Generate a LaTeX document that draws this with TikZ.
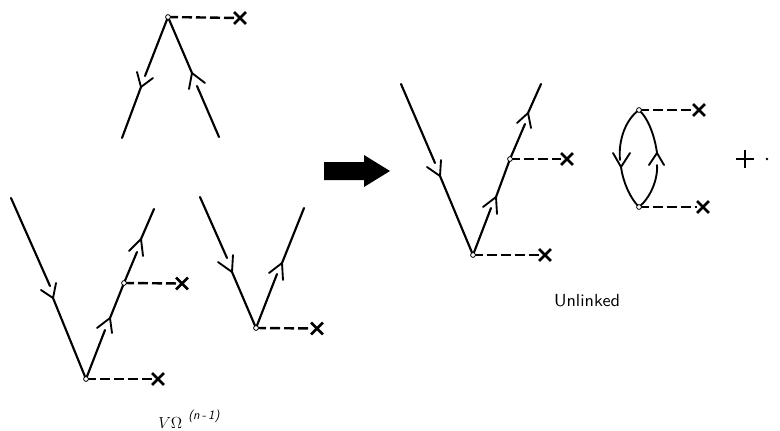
\documentclass[tikz,border=0pt]{standalone}
\usetikzlibrary{shapes.misc}
\tikzset{
  line/.style={line width=1.6pt,black,line cap=round},
  thinline/.style={line width=1.4pt,black,line cap=round},
  barb/.style={line width=1.4pt,black,line cap=round},
  dsh/.style={line width=1.8pt,black,dash pattern=on 7.5pt off 3pt},
  vert/.style={circle,draw=black,fill=white,line width=0.6pt,inner sep=0pt,minimum size=3.6pt},
  xmk/.style={cross out,draw=black,line width=1.9pt,inner sep=0pt,minimum size=7pt},
}
\newcommand{\ymark}[3]{\draw[barb] (#2) -- (#1) -- (#3);}
\begin{document}
\begin{tikzpicture}[x=0.75pt,y=-0.75pt]
\useasboundingbox (0,0) rectangle (780,430);
% top diagram
\coordinate (tla) at (141,87);
\coordinate (tlg) at (145,76);
\coordinate (tle) at (122,138);
\coordinate (tra) at (192,73);
\coordinate (trg) at (197,86);
\coordinate (tre) at (219,137);
\draw[line] (168,17) coordinate (tv0) -- (tlg);
\draw[line] (tla) -- (tle);
\draw[line] (tv0) -- (tra);
\draw[line] (trg) -- (tre);
\ymark{tla}{137,72}{153,78}
\ymark{tra}{205,83}{189,89}
\node[xmk] (tx) at (240,18) {};
\draw[dsh] (tv0) -- (tx);
\node[vert] (tv) at (tv0) {};
% lower left diagram
\coordinate (as) at (11,198);
\coordinate (ag) at (50,286);
\coordinate (aa) at (53,298);
\coordinate (ab) at (86,379);
\coordinate (ac) at (124,283);
\coordinate (ag2) at (105,330);
\coordinate (aa2) at (110,318);
\coordinate (ag3) at (137,252);
\coordinate (aa3) at (141,239);
\coordinate (ae) at (154,209);
\draw[line] (as) -- (ag);
\draw[line] (aa) -- (ab) -- (ag2);
\draw[line] (aa2) -- (ac) -- (ag3);
\draw[line] (aa3) -- (ae);
\ymark{aa}{41,290}{56,283}
\ymark{aa2}{97,328}{112,333}
\ymark{aa3}{129,251}{143,256}
\node[xmk] (ax1) at (182,283.5) {};
\node[xmk] (ax2) at (158,379) {};
\draw[dsh] (ac) -- (ax1);
\draw[dsh] (ab) -- (ax2);
\node[vert] (av1) at (ac) {};
\node[vert] (av2) at (ab) {};
% lower middle diagram
\coordinate (bs) at (200,197);
\coordinate (bg) at (227,258);
\coordinate (ba) at (232,272);
\coordinate (bb) at (256,328);
\coordinate (bg2) at (277,274);
\coordinate (ba2) at (282,263);
\coordinate (be) at (304,208);
\draw[line] (bs) -- (bg);
\draw[line] (ba) -- (bb) -- (bg2);
\draw[line] (ba2) -- (be);
\ymark{ba}{218,262}{233,255}
\ymark{ba2}{269,273}{283,280}
\node[xmk] (bx) at (317,328.5) {};
\draw[dsh] (bb) -- (bx);
\node[vert] (bv) at (bb) {};
% big arrow
\fill[black] (324,162) -- (364,162) -- (364,155) -- (390,171) -- (364,187) -- (364,180) -- (324,180) -- cycle;
% right V
\coordinate (cs) at (401,84);
\coordinate (cg) at (435,163);
\coordinate (ca) at (440,176);
\coordinate (cb) at (473,255);
\coordinate (cc) at (510,159);
\coordinate (cg2) at (491,208);
\coordinate (ca2) at (496,197);
\coordinate (cg3) at (525,124);
\coordinate (ca3) at (528,113);
\coordinate (ce) at (541,84);
\draw[line] (cs) -- (cg);
\draw[line] (ca) -- (cb) -- (cg2);
\draw[line] (ca2) -- (cc) -- (cg3);
\draw[line] (ca3) -- (ce);
\ymark{ca}{427,167}{441,160}
\ymark{ca2}{483,207}{497,214}
\ymark{ca3}{517,123}{531,128}
\node[xmk] (cx1) at (567,159) {};
\node[xmk] (cx2) at (545,255) {};
\draw[dsh] (cc) -- (cx1);
\draw[dsh] (cb) -- (cx2);
\node[vert] (cv1) at (cc) {};
\node[vert] (cv2) at (cb) {};
% bubble
\coordinate (dt) at (639,110);
\coordinate (db) at (639,207);
\coordinate (dl) at (621,167);
\coordinate (dr) at (657,153);
\draw[thinline] (dt) .. controls (626,119) and (618,140) .. (620,160);
\draw[thinline] (dl) .. controls (623,182) and (630,198) .. (db);
\draw[thinline] (dt) .. controls (649,119) and (655,138) .. (dr);
\draw[thinline] (657,165) .. controls (658,180) and (650,198) .. (db);
\ymark{dl}{613,153}{630,153}
\ymark{dr}{649,165}{664,165}
\node[xmk] (dx1) at (699,110) {};
\node[xmk] (dx2) at (703,207) {};
\draw[dsh] (dt) -- (dx1);
\draw[dsh] (db) -- (dx2);
\node[vert] (dv1) at (dt) {};
\node[vert] (dv2) at (db) {};
% plus and dot
\draw[line width=1.7pt] (736,159) -- (754,159);
\draw[line width=1.7pt] (745,150) -- (745,168);
\fill (767,159) circle (1.1pt);
% labels
\node[font=\sffamily\fontsize{10.5}{12}\selectfont,inner sep=0pt,xscale=1.3,yscale=1.25] (un) at (587,301) {Unlinked};
\node[anchor=base west,inner sep=0pt,font=\fontsize{12.5}{14}\selectfont] (vq) at (158,428) {$V\Omega$};
\node[anchor=base west,inner sep=0pt,font=\sffamily\itshape\fontsize{9.5}{11}\selectfont] (sup) at (188,419) {(n\,-\,1)};
\end{tikzpicture}
\end{document}
